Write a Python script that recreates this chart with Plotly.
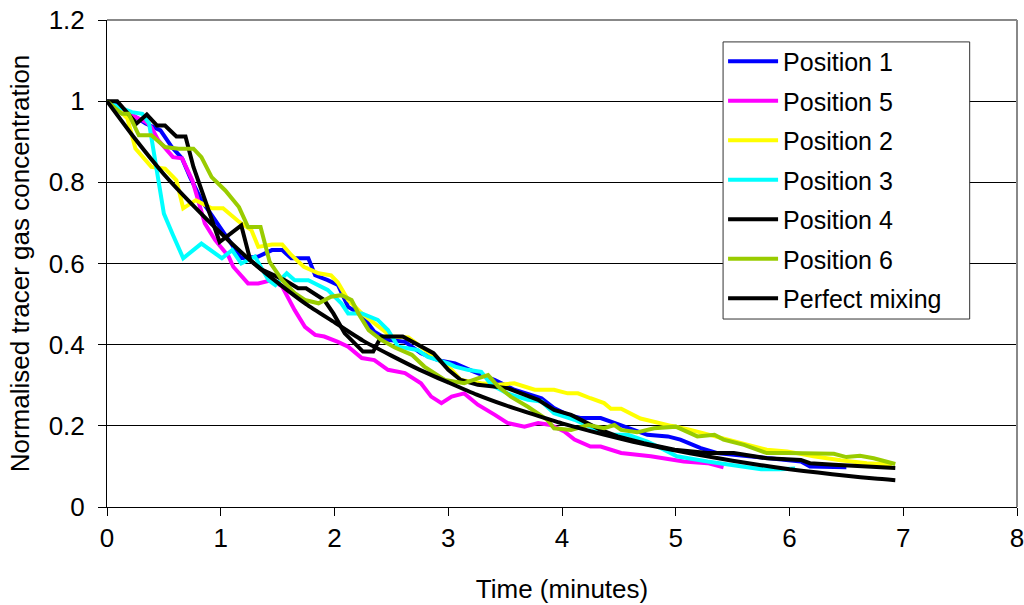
import plotly.graph_objects as go

# ---- data ----
p1_t = [0, 0.1, 0.2, 0.34, 0.47, 0.57, 0.66, 0.73, 0.83, 0.95, 1.02, 1.18, 1.33, 1.45, 1.54, 1.62, 1.77, 1.83,
        1.94, 2.03, 2.12, 2.24, 2.35, 2.47, 2.62, 2.76, 2.91, 3.06, 3.23, 3.41, 3.58, 3.82, 3.93, 4.05, 4.17,
        4.34, 4.46, 4.63, 4.75, 4.93, 5.04, 5.22, 5.36, 5.51, 5.80, 6.10, 6.18, 6.50]
p1_v = [1.0, 0.99, 0.97, 0.945, 0.928, 0.887, 0.859, 0.813, 0.756, 0.707, 0.682, 0.613, 0.617, 0.633, 0.633,
        0.613, 0.613, 0.571, 0.559, 0.547, 0.493, 0.473, 0.432, 0.412, 0.407, 0.379, 0.362, 0.354, 0.333,
        0.313, 0.289, 0.268, 0.244, 0.227, 0.219, 0.219, 0.207, 0.19, 0.178, 0.174, 0.166, 0.145, 0.133,
        0.129, 0.12, 0.112, 0.10, 0.098]

p5_t = [0, 0.15, 0.34, 0.39, 0.45, 0.58, 0.66, 0.75, 0.86, 0.95, 1.07, 1.11, 1.24, 1.33, 1.45, 1.54, 1.65,
        1.74, 1.83, 1.91, 2.03, 2.12, 2.24, 2.35, 2.47, 2.62, 2.76, 2.85, 2.94, 3.03, 3.14, 3.26, 3.41, 3.52,
        3.67, 3.79, 3.90, 4.02, 4.11, 4.25, 4.34, 4.52, 4.78, 5.07, 5.28, 5.42]
p5_v = [1.0, 0.975, 0.949, 0.936, 0.904, 0.862, 0.859, 0.805, 0.699, 0.658, 0.617, 0.592, 0.551, 0.551,
        0.559, 0.543, 0.485, 0.444, 0.424, 0.42, 0.407, 0.395, 0.367, 0.362, 0.338, 0.33, 0.305, 0.272,
        0.256, 0.272, 0.28, 0.252, 0.227, 0.207, 0.198, 0.207, 0.202, 0.186, 0.166, 0.149, 0.149, 0.133,
        0.125, 0.112, 0.108, 0.098]

p2_t = [0, 0.1, 0.18, 0.25, 0.39, 0.51, 0.61, 0.67, 0.78, 0.92, 1.02, 1.16, 1.27, 1.33, 1.45, 1.54, 1.62,
        1.73, 1.86, 1.97, 2.03, 2.12, 2.24, 2.38, 2.50, 2.65, 2.76, 2.88, 3.03, 3.11, 3.29, 3.44, 3.58, 3.76,
        3.93, 4.05, 4.14, 4.25, 4.37, 4.43, 4.52, 4.69, 4.84, 4.96, 5.13, 5.36, 5.57, 5.80, 5.98, 6.21, 6.45,
        6.68, 6.9]
p2_v = [1.0, 0.98, 0.957, 0.883, 0.838, 0.834, 0.805, 0.736, 0.756, 0.736, 0.736, 0.703, 0.682, 0.641,
        0.647, 0.647, 0.621, 0.592, 0.576, 0.571, 0.553, 0.51, 0.477, 0.446, 0.42, 0.418, 0.395, 0.37,
        0.338, 0.313, 0.305, 0.301, 0.305, 0.289, 0.289, 0.28, 0.28, 0.268, 0.256, 0.242, 0.242, 0.218,
        0.207, 0.20, 0.19, 0.174, 0.159, 0.141, 0.137, 0.125, 0.115, 0.108, 0.105]

p3_t = [0, 0.1, 0.22, 0.31, 0.37, 0.42, 0.50, 0.58, 0.67, 0.83, 0.95, 1.01, 1.10, 1.18, 1.30, 1.42, 1.48,
        1.58, 1.65, 1.77, 1.94, 2.06, 2.12, 2.24, 2.38, 2.47, 2.56, 2.73, 2.82, 3.0, 3.06, 3.17, 3.29, 3.38,
        3.52, 3.70, 3.82, 3.93, 4.11, 4.25, 4.40, 4.58, 4.75, 4.87, 5.01, 5.28, 5.57, 5.75, 5.92, 6.05]
p3_v = [1.0, 0.985, 0.973, 0.969, 0.945, 0.862, 0.723, 0.67, 0.613, 0.649, 0.625, 0.613, 0.633, 0.60,
        0.617, 0.559, 0.547, 0.576, 0.559, 0.559, 0.535, 0.502, 0.477, 0.477, 0.461, 0.436, 0.395, 0.387,
        0.37, 0.354, 0.346, 0.338, 0.333, 0.301, 0.28, 0.264, 0.26, 0.231, 0.215, 0.198, 0.178, 0.178,
        0.161, 0.145, 0.125, 0.112, 0.10, 0.093, 0.093, 0.095]

p4_t = [0, 0.09, 0.26, 0.35, 0.44, 0.51, 0.61, 0.69, 0.76, 0.89, 0.99, 1.18, 1.26, 1.36, 1.56, 1.68, 1.75,
        1.91, 1.99, 2.09, 2.25, 2.34, 2.41, 2.60, 2.73, 2.87, 3.0, 3.11, 3.26, 3.52, 3.79, 3.93, 4.08, 4.20,
        4.34, 4.49, 4.72, 4.99, 5.28, 5.51, 5.80, 6.10, 6.18, 6.39, 6.68, 6.93]
p4_v = [1.0, 1.0, 0.945, 0.967, 0.94, 0.94, 0.913, 0.913, 0.838, 0.731, 0.653, 0.694, 0.608, 0.585, 0.559,
        0.539, 0.539, 0.51, 0.477, 0.428, 0.383, 0.383, 0.42, 0.42, 0.40, 0.379, 0.338, 0.313, 0.301, 0.293,
        0.264, 0.239, 0.227, 0.211, 0.19, 0.174, 0.157, 0.141, 0.133, 0.133, 0.12, 0.116, 0.108, 0.104,
        0.10, 0.096]

p6_t = [0, 0.13, 0.19, 0.28, 0.39, 0.51, 0.63, 0.76, 0.83, 0.92, 1.04, 1.16, 1.24, 1.35, 1.43, 1.54, 1.65,
        1.74, 1.86, 1.97, 2.06, 2.15, 2.21, 2.30, 2.41, 2.53, 2.68, 2.79, 2.97, 3.14, 3.26, 3.35, 3.44, 3.55,
        3.70, 3.87, 3.93, 4.08, 4.23, 4.37, 4.46, 4.52, 4.66, 4.81, 5.0, 5.19, 5.34, 5.42, 5.60, 5.80, 5.98,
        6.21, 6.39, 6.50, 6.62, 6.74, 6.93]
p6_v = [1.0, 0.969, 0.969, 0.916, 0.916, 0.887, 0.883, 0.883, 0.862, 0.813, 0.78, 0.739, 0.69, 0.69, 0.604,
        0.559, 0.527, 0.51, 0.502, 0.518, 0.522, 0.51, 0.477, 0.436, 0.412, 0.393, 0.375, 0.346, 0.313,
        0.305, 0.317, 0.325, 0.297, 0.272, 0.247, 0.215, 0.194, 0.19, 0.202, 0.194, 0.202, 0.19, 0.184,
        0.194, 0.198, 0.174, 0.178, 0.166, 0.153, 0.133, 0.133, 0.133, 0.131, 0.123, 0.126, 0.12, 0.106]

pm_t = [0, 0.25, 0.5, 0.75, 1.0, 1.25, 1.5, 1.75, 2.0, 2.25, 2.5, 2.75, 3.0, 3.25, 3.5, 3.75, 4.0, 4.25,
        4.5, 4.75, 5.0, 5.25, 5.5, 5.75, 6.0, 6.25, 6.5, 6.75, 6.93]
pm_v = [1.0, 0.906, 0.82, 0.745, 0.675, 0.61, 0.553, 0.50, 0.455, 0.41, 0.373, 0.338, 0.307, 0.277, 0.251,
        0.228, 0.206, 0.187, 0.169, 0.153, 0.139, 0.126, 0.114, 0.103, 0.093, 0.085, 0.077, 0.07, 0.066]

names = ["Position 1", "Position 5", "Position 2", "Position 3", "Position 4", "Position 6", "Perfect mixing"]
colors = ["#0000FF", "#FF00FF", "#FFFF00", "#00FFFF", "#000000", "#99CC00", "#000000"]
series = [(p1_t, p1_v), (p5_t, p5_v), (p2_t, p2_v), (p3_t, p3_v), (p4_t, p4_v), (p6_t, p6_v), (pm_t, pm_v)]

FONT = "Liberation Sans, Arial, sans-serif"

fig = go.Figure()
for i, ((t, v), name, col) in enumerate(zip(series, names, colors)):
    fig.add_trace(go.Scatter(
        x=t, y=v, mode="lines", name=name, legendgroup=f"g{i}",
        line=dict(color=col, width=4, shape="spline" if name == "Perfect mixing" else "linear",
                  smoothing=0.6),
    ))

fig.update_layout(
    width=1024, height=605,
    margin=dict(l=107, r=7, t=20, b=98),
    paper_bgcolor="white", plot_bgcolor="white",
    font=dict(family=FONT, size=26, color="black"),
    showlegend=True,
    legend=dict(
        x=0.677, y=0.962, xanchor="left", yanchor="top",
        bgcolor="rgba(0,0,0,0)", borderwidth=0,
        font=dict(family=FONT, size=25, color="black"),
        tracegroupgap=4, itemwidth=50,
    ),
    xaxis=dict(
        range=[0, 8], dtick=1, tick0=0, showgrid=False, zeroline=False, automargin=False,
        showline=True, linecolor="black", linewidth=1, ticklabeloverflow="allow",
        ticks="outside", ticklen=8, tickcolor="black", tickwidth=1,
        title=dict(text="Time (minutes)", standoff=27, font=dict(size=26)),
    ),
    yaxis=dict(
        range=[0, 1.2], dtick=0.2, tick0=0, showgrid=True, gridcolor="black", gridwidth=1,
        zeroline=False, showline=True, linecolor="black", linewidth=1, automargin=False,
        ticks="outside", ticklen=8, tickcolor="black", tickwidth=1, ticklabelstandoff=8,
        ticklabeloverflow="allow",
        title=dict(text="Normalised tracer gas concentration", standoff=11, font=dict(size=26)),
    ),
    shapes=[
        dict(type="line", xref="paper", yref="paper", x0=0, x1=1, y0=1, y1=1,
             line=dict(color="#888888", width=2)),
        dict(type="line", xref="paper", yref="paper", x0=1, x1=1, y0=0, y1=1,
             line=dict(color="#888888", width=2)),
        # legend frame
        dict(type="rect", xref="paper", yref="paper", x0=0.677, x1=0.948, y0=0.386, y1=0.955,
             fillcolor="white", line=dict(color="#333333", width=1), layer="above"),
    ],
)

fig.write_html("out.html", config={"displayModeBar": False},
               post_script="document.body.style.margin='0';")
